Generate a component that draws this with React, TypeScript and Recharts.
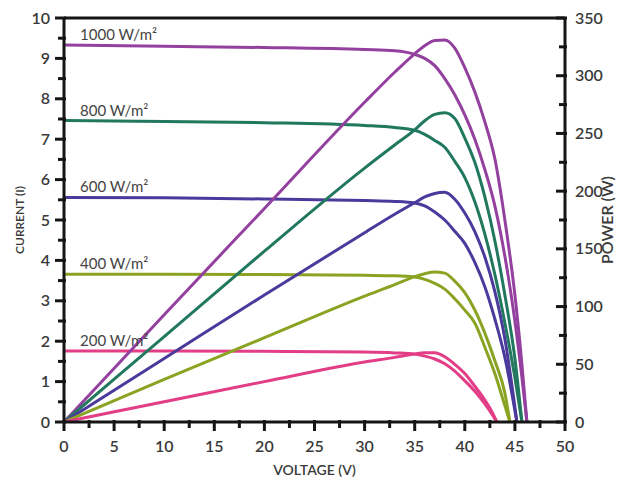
import { LineChart, Line, XAxis, YAxis, ReferenceDot } from 'recharts'

// irradiance curves: voltage grid, current (A, left axis) and power (W, right axis)
const VOLTS_1000 = [0, 10, 20, 30, 33, 35, 36, 37, 38, 39, 40, 41, 42, 43, 44, 45, 45.7, 46.2]
const AMPS_1000 = [9.33, 9.3, 9.27, 9.22, 9.19, 9.1, 9.0, 8.82, 8.5, 8.1, 7.6, 7.0, 6.25, 5.35, 4.1, 2.5, 1.1, 0]
const WATTS_1000 = [0, 93, 185, 277, 303, 319, 326, 330.5, 331, 324, 307, 286, 260, 228, 175, 110, 50, 0]

const VOLTS_800 = [0, 10, 20, 30, 33, 35, 36, 37, 38, 39, 40, 41, 42, 43, 44, 45, 45.7]
const AMPS_800 = [7.46, 7.44, 7.41, 7.34, 7.29, 7.22, 7.12, 6.97, 6.8, 6.45, 6.05, 5.45, 4.65, 3.65, 2.45, 1.1, 0]
const WATTS_800 = [0, 74, 148, 220, 240, 253, 261, 266.5, 268, 263, 246, 225, 195, 157, 110, 55, 0]

const VOLTS_600 = [0, 10, 20, 30, 33, 35, 36, 37, 38, 39, 40, 41, 42, 43, 44, 45.2]
const AMPS_600 = [5.56, 5.55, 5.52, 5.48, 5.46, 5.42, 5.35, 5.2, 5.0, 4.72, 4.42, 3.95, 3.35, 2.55, 1.6, 0]
const WATTS_600 = [0, 55, 110, 164, 180, 190, 195, 198, 199, 193, 181, 165, 143, 113, 72, 0]

const VOLTS_400 = [0, 10, 20, 30, 33, 35, 36, 37, 38, 39, 40, 41, 42, 43, 44, 44.5]
const AMPS_400 = [3.66, 3.66, 3.65, 3.63, 3.62, 3.59, 3.53, 3.43, 3.29, 3.05, 2.77, 2.45, 1.85, 1.2, 0.4, 0]
const WATTS_400 = [0, 37, 73, 109, 119, 126, 128.5, 130, 129, 122, 112, 97, 77, 53, 25, 0]

const VOLTS_200 = [0, 10, 20, 30, 33, 35, 36, 37, 38, 39, 40, 41, 42, 42.7, 43.2]
const AMPS_200 = [1.76, 1.76, 1.75, 1.73, 1.71, 1.68, 1.63, 1.56, 1.44, 1.26, 1.02, 0.76, 0.45, 0.2, 0]
const WATTS_200 = [0, 17.5, 35, 52, 56, 59, 60, 60, 56.5, 50, 42, 31, 19, 9, 0]

const LABELS = ['1000 W/m²', '800 W/m²', '600 W/m²', '400 W/m²', '200 W/m²']
const COLORS = ['#93409f', '#21785f', '#4b3a9c', '#8aa323', '#e23d86']

const X_TICKS = [0, 2.5, 5, 7.5, 10, 12.5, 15, 17.5, 20, 22.5, 25, 27.5, 30, 32.5, 35, 37.5, 40, 42.5, 45, 47.5, 50]
const I_TICKS = [0, 0.5, 1, 1.5, 2, 2.5, 3, 3.5, 4, 4.5, 5, 5.5, 6, 6.5, 7, 7.5, 8, 8.5, 9, 9.5, 10]
const P_TICKS = [0, 25, 50, 75, 100, 125, 150, 175, 200, 225, 250, 275, 300, 325, 350]

const FONT = "Lato, 'Liberation Sans', Arial, sans-serif"
const AXIS = '#151515'
const TEXT = '#3a3a3a'
const GAP = 12

const zip = (v: number[], a: number[], w: number[]) =>
  v.map((x, i) => ({ v: x, i: a[i], p: w[i] }))

const SERIES = [
  zip(VOLTS_1000, AMPS_1000, WATTS_1000),
  zip(VOLTS_800, AMPS_800, WATTS_800),
  zip(VOLTS_600, AMPS_600, WATTS_600),
  zip(VOLTS_400, AMPS_400, WATTS_400),
  zip(VOLTS_200, AMPS_200, WATTS_200),
]

const labelProps = { fontSize: 16, fill: TEXT, fontFamily: FONT, fontWeight: 600 }

// tick marks cross the axis line; recharts gives the label anchor, the axis sits GAP px away
const leftTick = (props: any) => {
  const { x, y, payload } = props
  const major = payload.value % 1 === 0
  const ax = x + GAP
  return (
    <g>
      <line x1={ax - (major ? 9 : 6)} x2={ax + 2} y1={y} y2={y} stroke={AXIS} strokeWidth={3} />
      {major && (
        <text x={x - 2} y={y} dy="0.35em" textAnchor="end" {...labelProps}>
          {payload.value}
        </text>
      )}
    </g>
  )
}

const rightTick = (props: any) => {
  const { x, y, payload } = props
  const major = payload.value % 50 === 0
  const ax = x - GAP
  return (
    <g>
      <line x1={ax - (major ? 9 : 6)} x2={ax + 2} y1={y} y2={y} stroke={AXIS} strokeWidth={3} />
      {major && (
        <text x={x - 2} y={y} dy="0.35em" textAnchor="start" {...labelProps}>
          {payload.value}
        </text>
      )}
    </g>
  )
}

const bottomTick = (props: any) => {
  const { x, y, payload } = props
  const major = payload.value % 5 === 0
  const ay = y - GAP
  return (
    <g>
      <line x1={x} x2={x} y1={ay - 2} y2={ay + (major ? 9 : 6)} stroke={AXIS} strokeWidth={3} />
      {major && (
        <text x={x} y={y + 7} dy="0.71em" textAnchor="middle" {...labelProps}>
          {payload.value}
        </text>
      )}
    </g>
  )
}

const topTick = (props: any) => {
  const { x, y, payload } = props
  const ay = y + GAP
  return (
    <line
      x1={x}
      x2={x}
      y1={ay - 2}
      y2={ay + (payload.value % 5 === 0 ? 8 : 6)}
      stroke={AXIS}
      strokeWidth={3}
    />
  )
}

const sideTitle = (text: string, x: number, size: number) => (props: any) => {
  const { viewBox } = props
  const y = viewBox.y + viewBox.height / 2
  return (
    <text
      x={x}
      y={y}
      transform={`rotate(-90 ${x} ${y})`}
      textAnchor="middle"
      dominantBaseline="central"
      fontSize={size}
      fill={TEXT}
      fontFamily={FONT}
      fontWeight={600}
    >
      {text}
    </text>
  )
}

const bottomTitle = (props: any) => {
  const { viewBox } = props
  return (
    <text
      x={viewBox.x + viewBox.width / 2}
      y={475}
      textAnchor="middle"
      fontSize={14}
      fill={TEXT}
      fontFamily={FONT}
      fontWeight={600}
    >
      VOLTAGE (V)
    </text>
  )
}

const curveLabel = (text: string) => (props: any) => {
  const { viewBox } = props
  return (
    <text x={viewBox.x} y={viewBox.y - 5} fontSize={15} fill="#444" fontFamily={FONT}>
      {text}
    </text>
  )
}

export default function App() {
  return (
    <div style={{ position: 'absolute', left: 0, top: 0, width: 633, height: 482, background: '#fff' }}>
      <LineChart width={633} height={482} margin={{ top: 16, right: 6, bottom: 4, left: 6 }}>
        <XAxis
          xAxisId="top"
          orientation="top"
          type="number"
          dataKey="v"
          domain={[0, 50]}
          ticks={X_TICKS}
          interval={0}
          height={2}
          tickSize={0}
          tickMargin={GAP}
          tick={topTick}
          tickLine={false}
          axisLine={{ stroke: AXIS, strokeWidth: 3 }}
        />
        <XAxis
          type="number"
          dataKey="v"
          domain={[0, 50]}
          ticks={X_TICKS}
          interval={0}
          height={56}
          tickSize={0}
          tickMargin={GAP}
          tick={bottomTick}
          tickLine={false}
          axisLine={{ stroke: AXIS, strokeWidth: 3 }}
          label={{ content: bottomTitle }}
        />
        <YAxis
          yAxisId="I"
          type="number"
          domain={[0, 10]}
          ticks={I_TICKS}
          interval={0}
          width={58}
          tickSize={0}
          tickMargin={GAP}
          tick={leftTick}
          tickLine={false}
          axisLine={{ stroke: AXIS, strokeWidth: 3 }}
          label={{ content: sideTitle('CURRENT (I)', 19, 12) }}
        />
        <YAxis
          yAxisId="P"
          orientation="right"
          type="number"
          domain={[0, 350]}
          ticks={P_TICKS}
          interval={0}
          width={62}
          tickSize={0}
          tickMargin={GAP}
          tick={rightTick}
          tickLine={false}
          axisLine={{ stroke: AXIS, strokeWidth: 3 }}
          label={{ content: sideTitle('POWER (W)', 606, 16) }}
        />
        {SERIES.map((data, k) => (
          <Line
            key={`i-${k}`}
            data={data}
            yAxisId="I"
            dataKey="i"
            type="monotone"
            stroke={COLORS[k]}
            strokeWidth={3}
            dot={false}
            isAnimationActive={false}
          />
        ))}
        {SERIES.map((data, k) => (
          <Line
            key={`p-${k}`}
            data={data}
            yAxisId="P"
            dataKey="p"
            type="monotone"
            stroke={COLORS[k]}
            strokeWidth={3}
            dot={false}
            isAnimationActive={false}
          />
        ))}
        {SERIES.map((data, k) => (
          <ReferenceDot
            key={`l-${k}`}
            yAxisId="I"
            x={1.6}
            y={data[0].i}
            r={0}
            fill="none"
            stroke="none"
            label={{ content: curveLabel(LABELS[k]) }}
          />
        ))}
      </LineChart>
    </div>
  )
}
